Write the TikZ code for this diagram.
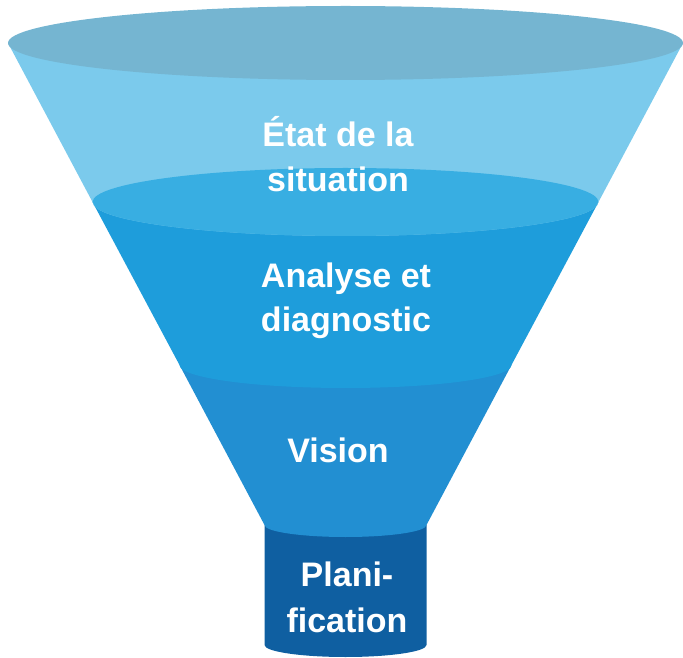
\documentclass[tikz,border=0pt]{standalone}
\usepackage{fontspec}
\setmainfont{Liberation Sans}
\definecolor{topell}{HTML}{75B5D1}
\definecolor{segA}{HTML}{7BCAEC}
\definecolor{ellB}{HTML}{38AEE2}
\definecolor{segB}{HTML}{1E9DDB}
\definecolor{segC}{HTML}{228FD2}
\definecolor{segD}{HTML}{0F5FA1}
\tikzset{
  lbl/.style={anchor=base, text=white, inner sep=0pt, font=\fontsize{34}{40}\selectfont\bfseries},
}
\begin{document}
\begin{tikzpicture}[x=1pt,y=1pt]
\useasboundingbox (0,0) rectangle (683,657);
% cylinder
\fill[segD] (264.5,132) -- (264.5,12) arc[start angle=180,end angle=360,x radius=81pt,y radius=12pt] -- (426.5,132) -- cycle;
% Vision
\fill[segC] (179.5,292) -- (264.5,132) arc[start angle=180,end angle=360,x radius=81pt,y radius=12pt] -- (511.5,292) -- cycle;
% Analyse
\fill[segB] (92.5,455) -- (179.5,292) arc[start angle=180,end angle=360,x radius=166pt,y radius=23pt] -- (598.5,455) -- cycle;
% Etat
\fill[segA] (8,614) -- (92.5,455) arc[start angle=180,end angle=360,x radius=253pt,y radius=34pt] -- (683,614) -- cycle;
% ellipse 2 (clipped to funnel)
\begin{scope}
  \clip (8,614) -- (264.5,132) -- (426.5,132) -- (683,614) -- cycle;
  \fill[ellB] (345.5,455) ellipse[x radius=253pt,y radius=34pt];
\end{scope}
% top ellipse
\fill[topell] (345.5,614) ellipse[x radius=337.5pt,y radius=37pt];
% labels
\node[lbl] (t1a) at (338,510) {État de la};
\node[lbl] (t1b) at (338,465) {situation};
\node[lbl] (t2a) at (346,369) {Analyse et};
\node[lbl] (t2b) at (346,325) {diagnostic};
\node[lbl] (t3) at (338,195) {Vision};
\node[lbl] (t4a) at (347,71) {Plani-};
\node[lbl] (t4b) at (347,25) {fication};
\end{tikzpicture}
\end{document}
